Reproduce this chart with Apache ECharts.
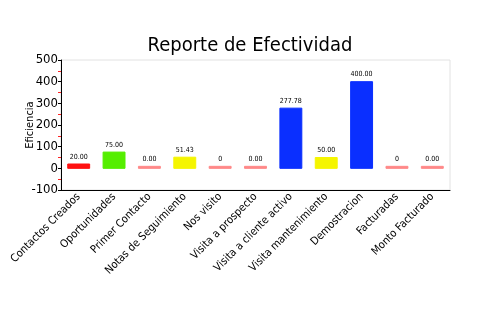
<!DOCTYPE html>
<html><head><meta charset="utf-8">
<script src="https://cdn.jsdelivr.net/npm/echarts@6/dist/echarts.min.js"></script>
<style>html,body{margin:0;padding:0;background:#fff}#c{width:500px;height:330px}</style>
</head><body><div id="c"></div>
<script>
const categories = ["Contactos Creados","Oportunidades","Primer Contacto","Notas de Seguimiento","Nos visito","Visita a prospecto","Visita a cliente activo","Visita mantenimiento","Demostracion","Facturadas","Monto Facturado"];
const values = [20, 75, 0, 51.43, 0, 0, 277.78, 50, 400, 0, 0];
const valueLabels = ["20.00","75.00","0.00","51.43","0","0.00","277.78","50.00","400.00","0","0.00"];
const barColors = ["#ff1111","#55ee00","#ff8888","#f5f500","#ff8888","#ff8888","#0a2fff","#f5f500","#0a2fff","#ff8888","#ff8888"];
const yTicks = [-100, 0, 100, 200, 300, 400, 500];

const FONT = "'DejaVu Sans Condensed','Liberation Sans Narrow','Roboto',sans-serif";
const chart = echarts.init(document.getElementById('c'), null, {renderer:'canvas'});
chart.setOption({
  animation:false,
  title:{text:'Reporte de Efectividad', left:'center', top:31, textStyle:{fontFamily:FONT, fontSize:20, fontWeight:'normal', color:'#000'}},
  grid:{left:61, right:50, top:60, bottom:140, show:true, borderColor:'#e2e2e2', borderWidth:1},
  xAxis:{type:'category', data:categories,
    axisLine:{onZero:false, lineStyle:{color:'#000', width:1}},
    axisTick:{alignWithLabel:true, length:3, lineStyle:{color:'#000'}},
    axisLabel:{rotate:45, interval:0, margin:5, fontFamily:FONT, fontSize:11, color:'#000'}},
  yAxis:{type:'value', min:yTicks[0], max:yTicks[yTicks.length-1], interval:100,
    name:'Eficiencia', nameLocation:'middle', nameGap:25, nameMoveOverlap:false,
    nameTextStyle:{fontFamily:FONT, fontSize:11, color:'#000'},
    axisLine:{show:true, lineStyle:{color:'#000'}},
    axisTick:{show:true, length:3, lineStyle:{color:'#000'}},
    minorTick:{show:true, splitNumber:2, length:3, lineStyle:{color:'#ff2222'}},
    splitLine:{show:false},
    axisLabel:{fontFamily:FONT, fontSize:13, color:'#000', margin:3}},
  series:[{type:'bar', barWidth:'62%', barMinHeight:2,
    data: values.map((v,i)=>({value:v, itemStyle:{color:barColors[i], borderColor:barColors[i]}})),
    label:{show:true, position:'top', distance:3, fontFamily:FONT, fontSize:7, color:'#000',
      formatter:p=>valueLabels[p.dataIndex]}}]
});
</script></body></html>
